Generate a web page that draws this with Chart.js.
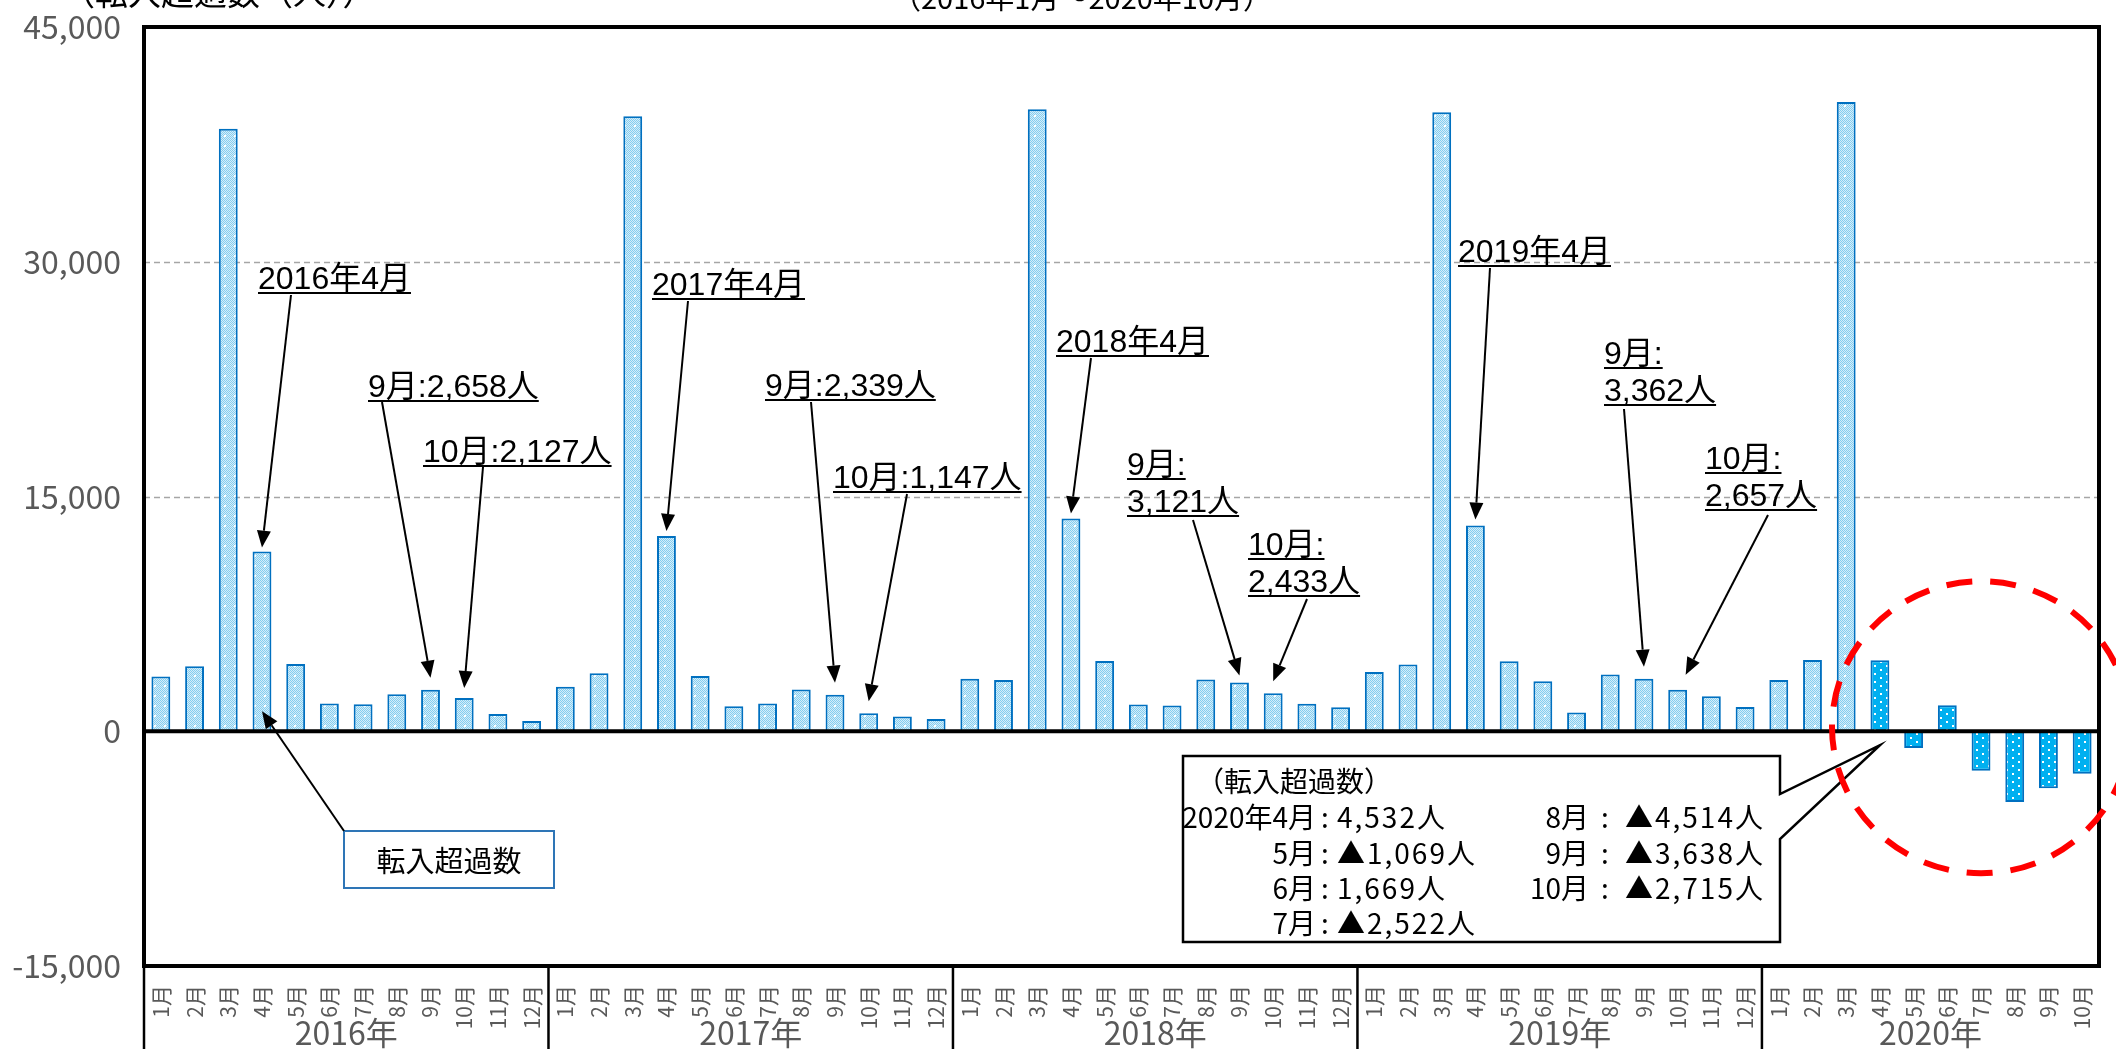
<!DOCTYPE html>
<html>
<head>
<meta charset="utf-8">
<title>転入超過数の推移</title>
<script src="https://cdn.jsdelivr.net/npm/chart.js@4.4.1/dist/chart.umd.min.js"></script>
<style>
  html, body { margin: 0; padding: 0; background: #fff; overflow: hidden; }
  canvas { display: block; }
</style>
</head>
<body>
<canvas id="netChart" width="2116" height="1049"></canvas>
<script>
// Monthly net in-migration (転入超過数), Jan 2016 - Oct 2020
const years = ['2016年', '2017年', '2018年', '2019年', '2020年'];
const monthNames = ['1月', '2月', '3月', '4月', '5月', '6月', '7月', '8月', '9月', '10月', '11月', '12月'];
const net2016 = [3500, 4150, 38500, 11480, 4300, 1770, 1720, 2360, 2658, 2127, 1100, 660];
const net2017 = [2850, 3700, 39300, 12480, 3530, 1600, 1770, 2660, 2339, 1147, 940, 790];
const net2018 = [3360, 3270, 39750, 13600, 4490, 1710, 1650, 3310, 3121, 2433, 1750, 1540];
const net2019 = [3790, 4270, 39550, 13140, 4480, 3190, 1200, 3620, 3362, 2657, 2240, 1550];
const net2020 = [3270, 4560, 40200, 4532, -1069, 1669, -2522, -4514, -3638, -2715];
const yTicks = [-15000, 0, 15000, 30000, 45000];

const series = [net2016, net2017, net2018, net2019, net2020];
const labels = [];
const values = [];
const groups = [];
series.forEach(function (arr, i) {
    groups.push({ name: years[i], start: labels.length, count: arr.length });
    arr.forEach(function (v, m) {
        labels.push(monthNames[m]);
        values.push(v);
    });
});
// 2020年4月 onwards is drawn in the darker fill
const highlightStart = groups[4].start + 3;

const FONT_NARROW = '"Liberation Sans Narrow", "Arial Narrow", "Noto Sans CJK JP", sans-serif';
const FONT_TEXT = '"Liberation Sans", Arial, "Noto Sans CJK JP", sans-serif';
const FONT_JP = '"Noto Sans CJK JP", sans-serif';
const GREY = '#595959';

function fmt(v) {
    return Math.abs(v).toLocaleString('en-US');
}
function fmtSigned(v) {
    return (v < 0 ? '▲' : '') + fmt(v);
}

// bar fills
function makePattern(bg, checker, dots, w, h) {
    const c = document.createElement('canvas');
    c.width = w; c.height = h;
    const g = c.getContext('2d');
    g.fillStyle = bg;
    g.fillRect(0, 0, w, h);
    if (checker) {
        g.fillStyle = checker;
        for (let y = 0; y < h; y++) {
            for (let x = 0; x < w; x++) {
                if ((x + y) % 2 === 0) g.fillRect(x, y, 1, 1);
            }
        }
    }
    g.fillStyle = '#ffffff';
    dots.forEach(function (d) { g.fillRect(d[0], d[1], 2, 2); });
    return g.createPattern(c, 'repeat');
}
const lightFill = makePattern('#d4eefa', '#86cdef', [[4, 5]], 10, 10);
const darkFill = makePattern('#00b0f0', null, [[2, 1], [8, 5]], 12, 8);

// callouts: text lines ({v} = value of the bar), text position, arrow start, gap above bar
const notes = [
    { idx: 3,  lines: ['2016年4月'],        x: 258,  y: 289, from: [291, 295],  gap: 4 },
    { idx: 8,  lines: ['9月:{v}人'],        x: 368,  y: 397, from: [382, 402],  gap: 12 },
    { idx: 9,  lines: ['10月:{v}人'],       x: 423,  y: 462, from: [483, 467],  gap: 10 },
    { idx: 15, lines: ['2017年4月'],        x: 652,  y: 295, from: [688, 301],  gap: 5 },
    { idx: 20, lines: ['9月:{v}人'],        x: 765,  y: 396, from: [811, 402],  gap: 12 },
    { idx: 21, lines: ['10月:{v}人'],       x: 833,  y: 488, from: [907, 494],  gap: 12 },
    { idx: 27, lines: ['2018年4月'],        x: 1056, y: 352, from: [1091, 358], gap: 5 },
    { idx: 32, lines: ['9月:', '{v}人'],    x: 1127, y: 475, from: [1193, 520], gap: 7 },
    { idx: 33, lines: ['10月:', '{v}人'],   x: 1248, y: 555, from: [1307, 599], gap: 12 },
    { idx: 39, lines: ['2019年4月'],        x: 1458, y: 262, from: [1490, 268], gap: 6 },
    { idx: 44, lines: ['9月:', '{v}人'],    x: 1604, y: 364, from: [1624, 409], gap: 12 },
    { idx: 45, lines: ['10月:', '{v}人'],   x: 1705, y: 469, from: [1768, 515], gap: 15, dx: 8 }
];

function arrow(ctx, x1, y1, x2, y2) {
    const a = Math.atan2(y2 - y1, x2 - x1);
    const len = 17, half = 7;
    const bx = x2 - len * Math.cos(a), by = y2 - len * Math.sin(a);
    ctx.beginPath();
    ctx.moveTo(x1, y1);
    ctx.lineTo(bx, by);
    ctx.stroke();
    ctx.beginPath();
    ctx.moveTo(x2, y2);
    ctx.lineTo(bx + half * Math.sin(a), by - half * Math.cos(a));
    ctx.lineTo(bx - half * Math.sin(a), by + half * Math.cos(a));
    ctx.closePath();
    ctx.fill();
}

const gridPlugin = {
    id: 'grid',
    beforeDatasetsDraw(chart) {
        const ctx = chart.ctx, ys = chart.scales.y, area = chart.chartArea;
        ctx.save();
        ctx.strokeStyle = '#a6a6a6';
        ctx.lineWidth = 1.5;
        ctx.setLineDash([6, 4]);
        yTicks.forEach(function (t) {
            if (t <= ys.min || t >= ys.max || t === 0) return;
            const y = Math.round(ys.getPixelForValue(t)) + 0.5;
            ctx.beginPath();
            ctx.moveTo(area.left, y);
            ctx.lineTo(area.right, y);
            ctx.stroke();
        });
        ctx.restore();
        // value labels on the left, right-aligned
        ctx.save();
        ctx.fillStyle = GREY;
        ctx.font = '32px ' + FONT_NARROW;
        ctx.textAlign = 'right';
        ctx.textBaseline = 'middle';
        yTicks.forEach(function (t) {
            ctx.fillText((t < 0 ? '-' : '') + fmt(t), 121, ys.getPixelForValue(t));
        });
        ctx.restore();
    }
};

const decorPlugin = {
    id: 'decor',
    afterDraw(chart) {
        const ctx = chart.ctx, xs = chart.scales.x, ys = chart.scales.y, area = chart.chartArea;
        const cw = xs.width / labels.length;
        ctx.save();

        // zero line and frame
        const y0 = ys.getPixelForValue(0);
        ctx.strokeStyle = '#000';
        ctx.lineWidth = 4;
        ctx.beginPath();
        ctx.moveTo(area.left, y0);
        ctx.lineTo(area.right, y0);
        ctx.stroke();
        ctx.strokeRect(area.left, area.top, area.right - area.left, area.bottom - area.top);

        // year separators and year names
        ctx.lineWidth = 2.5;
        ctx.fillStyle = GREY;
        ctx.font = '32px ' + FONT_NARROW;
        ctx.textAlign = 'center';
        ctx.textBaseline = 'alphabetic';
        groups.forEach(function (g) {
            const x = xs.left + g.start * cw;
            ctx.beginPath();
            ctx.moveTo(x, area.bottom);
            ctx.lineTo(x, chart.height);
            ctx.stroke();
            ctx.fillText(g.name, x + g.count * cw / 2, 1045);
        });

        // titles cut off at the top edge
        ctx.fillStyle = '#000';
        ctx.font = '29px ' + FONT_NARROW;
        ctx.fillText('（2016年1月～2020年10月）', 1082, 9);
        ctx.textAlign = 'left';
        ctx.font = '33px ' + FONT_NARROW;
        ctx.fillText('（転入超過数（人））', 62, 5);

        // callouts with arrows
        ctx.font = '32px ' + FONT_TEXT;
        ctx.lineWidth = 2;
        notes.forEach(function (n) {
            const v = values[n.idx];
            n.lines.forEach(function (line, i) {
                const text = line.replace('{v}', fmt(v));
                const by = n.y + i * 37;
                const w = ctx.measureText(text).width;
                ctx.fillText(text, n.x, by);
                ctx.fillRect(n.x, by + 3, w, 2);
            });
            const tx = xs.getPixelForValue(n.idx) + (n.dx || 0);
            const ty = ys.getPixelForValue(v) - n.gap;
            arrow(ctx, n.from[0], n.from[1], tx, ty);
        });

        // series label box
        ctx.strokeStyle = '#2e75b6';
        ctx.lineWidth = 2;
        ctx.fillStyle = '#fff';
        ctx.fillRect(344, 831, 210, 57);
        ctx.strokeRect(344, 831, 210, 57);
        ctx.fillStyle = '#000';
        ctx.strokeStyle = '#000';
        ctx.font = '29px ' + FONT_JP;
        ctx.textAlign = 'center';
        ctx.fillText('転入超過数', 449, 872);
        arrow(ctx, 344, 831, xs.getPixelForValue(3), y0 - 20);

        // 2020 detail box with pointer to April bar
        const px = xs.getPixelForValue(highlightStart), py = y0 + 14;
        ctx.lineWidth = 2.5;
        ctx.beginPath();
        ctx.moveTo(1183, 756);
        ctx.lineTo(1780, 756);
        ctx.lineTo(1780, 794);
        ctx.lineTo(px, py);
        ctx.lineTo(1780, 839);
        ctx.lineTo(1780, 942);
        ctx.lineTo(1183, 942);
        ctx.closePath();
        ctx.fillStyle = '#fff';
        ctx.fill();
        ctx.stroke();

        ctx.fillStyle = '#000';
        ctx.font = '28px ' + FONT_NARROW;
        ctx.textAlign = 'left';
        ctx.fillText('（転入超過数）', 1196, 792);
        const base = groups[4].start;
        const rowsY = [828, 864, 899, 934];
        const cols = [
            { months: [3, 4, 5, 6], right: 1316, colon: 1325, left: 1337 },
            { months: [7, 8, 9], right: 1589, colon: 1605, left: 1625 }
        ];
        cols.forEach(function (c) {
            c.months.forEach(function (m, r) {
                const y = rowsY[r];
                const name = (m === 3 ? '2020年' : '') + monthNames[m];
                ctx.letterSpacing = '0px';
                ctx.textAlign = 'right';
                ctx.fillText(name, c.right, y);
                ctx.textAlign = 'center';
                ctx.fillText(':', c.colon, y);
                ctx.textAlign = 'left';
                ctx.letterSpacing = '2px';
                ctx.fillText(fmtSigned(values[base + m]) + '人', c.left, y);
            });
        });
        ctx.letterSpacing = '0px';

        // dashed ring round the 2020 decline
        const cx = (xs.getPixelForValue(highlightStart) + xs.getPixelForValue(values.length - 1)) / 2;
        ctx.strokeStyle = '#ff0000';
        ctx.lineWidth = 6;
        ctx.setLineDash([26, 18]);
        ctx.beginPath();
        ctx.ellipse(cx, y0 - 4, 149, 146, 0, 0, Math.PI * 2);
        ctx.stroke();
        ctx.restore();
    }
};

new Chart(document.getElementById('netChart'), {
    type: 'bar',
    data: {
        labels: labels,
        datasets: [{
            label: '転入超過数',
            data: values,
            backgroundColor: values.map(function (v, i) { return i >= highlightStart ? darkFill : lightFill; }),
            borderColor: '#0070c0',
            borderWidth: 2,
            barPercentage: 0.56,
            categoryPercentage: 1
        }]
    },
    options: {
        responsive: false,
        animation: false,
        devicePixelRatio: 1,
        layout: { padding: { left: 0, top: 27, right: 17, bottom: 0 } },
        plugins: {
            legend: { display: false },
            tooltip: { enabled: false }
        },
        scales: {
            x: {
                grid: { display: false },
                border: { display: false },
                ticks: {
                    autoSkip: false,
                    maxRotation: 90,
                    minRotation: 90,
                    padding: 11,
                    color: GREY,
                    font: { family: FONT_NARROW, size: 21, lineHeight: 1 }
                },
                afterFit: function (s) { s.height = 83; }
            },
            y: {
                min: yTicks[0],
                max: yTicks[yTicks.length - 1],
                afterBuildTicks: function (s) { s.ticks = yTicks.map(function (v) { return { value: v }; }); },
                grid: { display: false, drawTicks: false },
                border: { display: false },
                ticks: { display: false },
                afterFit: function (s) { s.width = 144; }
            }
        }
    },
    plugins: [gridPlugin, decorPlugin]
});
</script>
</body>
</html>
